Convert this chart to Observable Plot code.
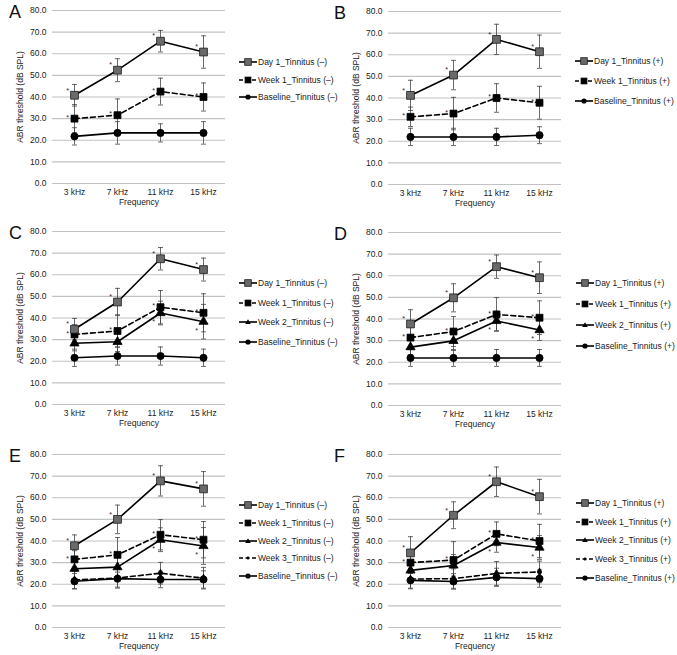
<!DOCTYPE html>
<html><head><meta charset="utf-8">
<script src="https://cdn.jsdelivr.net/npm/d3@7"></script>
<script src="https://cdn.jsdelivr.net/npm/@observablehq/plot@0.6"></script>
<style>
body{margin:0;background:#fff;}
#root{position:relative;width:677px;height:655px;font-family:"Liberation Sans",Arial,sans-serif;color:#222;overflow:hidden;}
.panel{position:absolute;}
.letter{position:absolute;font-size:18px;line-height:18px;color:#111;}
.lrow{position:absolute;display:flex;align-items:center;height:12px;font-size:8.5px;white-space:nowrap;}
.lrow svg{margin-right:1px;}
</style></head><body><div id="root"></div><script>
// ---- data ----
const freqs = ["3 kHz", "7 kHz", "11 kHz", "15 kHz"];
const yTicks = [0, 10, 20, 30, 40, 50, 60, 70, 80];
const seriesNames = ["Day 1", "Week 1", "Week 2", "Week 3", "Baseline"];

// significance markers (*) per series, by frequency
const sigDay1 = [1, 1, 1, 1];
const sigWeek1 = [1, 1, 1, 1];
const sigWeek2 = [0, 0, 1, 1];

// Panel A: Tinnitus (–)
const aDay1 = [40.8, 52.4, 65.8, 60.8], aDay1Err = [5.0, 5.3, 5.0, 7.5];
const aWeek1 = [30.0, 31.6, 42.5, 40.0], aWeek1Err = [6.5, 7.5, 6.2, 6.5];
const aBase = [21.8, 23.4, 23.4, 23.4], aBaseErr = [4.0, 5.2, 4.2, 5.2];
// Panel B: Tinnitus (+)
const bDay1 = [41.2, 50.6, 67.1, 61.4], bDay1Err = [7.0, 6.8, 7.0, 7.7];
const bWeek1 = [31.3, 32.8, 40.0, 37.8], bWeek1Err = [4.5, 7.5, 6.6, 7.6];
const bBase = [22.0, 22.0, 22.0, 22.8], bBaseErr = [4.0, 4.0, 4.0, 3.9];
// Panel C: Tinnitus (–)
const cDay1 = [34.8, 47.4, 67.4, 62.4], cDay1Err = [5.0, 6.3, 5.2, 5.3];
const cWeek1 = [32.4, 34.0, 45.0, 42.4], cWeek1Err = [4.5, 7.5, 7.7, 8.8];
const cWeek2 = [28.3, 29.0, 42.3, 38.3], cWeek2Err = [3.5, 4.5, 5.5, 8.0];
const cBase = [21.6, 22.4, 22.4, 21.6], cBaseErr = [4.0, 4.2, 4.2, 4.0];
// Panel D: Tinnitus (+)
const dDay1 = [37.7, 49.8, 64.2, 59.1], dDay1Err = [6.6, 6.5, 5.4, 7.3];
const dWeek1 = [31.4, 34.2, 42.1, 40.6], dWeek1Err = [5.0, 6.9, 7.8, 7.8];
const dWeek2 = [27.0, 29.9, 39.1, 34.9], dWeek2Err = [3.5, 4.5, 4.5, 4.8];
const dBase = [22.0, 22.0, 22.0, 22.0], dBaseErr = [3.9, 3.9, 3.9, 3.9];
// Panel E: Tinnitus (–)
const eDay1 = [37.8, 50.0, 67.8, 64.1], eDay1Err = [5.0, 6.6, 7.0, 8.0];
const eWeek1 = [31.5, 33.6, 42.9, 40.6], eWeek1Err = [4.0, 8.0, 7.0, 8.4];
const eWeek2 = [27.2, 27.9, 40.6, 37.7], eWeek2Err = [5.0, 5.0, 5.5, 8.5];
const eWeek3 = [22.0, 22.9, 25.1, 22.8], eWeek3Err = [4.0, 4.2, 5.0, 5.0];
const eBase = [21.4, 22.6, 22.2, 22.2], eBaseErr = [3.6, 4.4, 3.8, 4.0];
// Panel F: Tinnitus (+)
const fDay1 = [34.5, 51.9, 67.4, 60.5], fDay1Err = [7.5, 6.2, 6.8, 8.0];
const fWeek1 = [30.0, 31.2, 43.3, 40.0], fWeek1Err = [5.0, 8.5, 5.5, 7.7];
const fWeek2 = [26.4, 28.7, 39.3, 37.0], fWeek2Err = [4.5, 5.0, 4.5, 5.5];
const fWeek3 = [22.4, 22.6, 25.0, 25.7], fWeek3Err = [4.5, 4.5, 5.5, 5.0];
const fBase = [21.8, 21.3, 23.2, 22.6], fBaseErr = [3.6, 3.6, 4.2, 4.0];

// ---- styles ----
const styles = {
  "Day 1":    {symbol: "square",   r: 4.4, fill: "#6a6a6a", stroke: "#1a1a1a", dash: null,  starDy: -5},
  "Week 1":   {symbol: "square",   r: 3.9, fill: "#000",    stroke: "#000",    dash: "5,3", starDy: -1},
  "Week 2":   {symbol: "triangle", r: 3.4, fill: "#000",    stroke: "#000",    dash: null,  starDy: 9},
  "Week 3":   {symbol: "diamond",  r: 2.4, fill: "#000",    stroke: "#000",    dash: "5,3", starDy: -3},
  "Baseline": {symbol: "circle",   r: 3.6, fill: "#000",    stroke: "#000",    dash: null,  starDy: -3}
};
const capSymbol = {draw(ctx) { ctx.moveTo(-2.5, 0); ctx.lineTo(2.5, 0); }};

const panels = [
  {letter: "A", tag: "(–)", left: 0,   top: 0,   lx: 239, ly: 62,  ls: 17.5,
   series: [["Day 1", aDay1, aDay1Err, sigDay1], ["Week 1", aWeek1, aWeek1Err, sigWeek1], ["Baseline", aBase, aBaseErr, null]]},
  {letter: "B", tag: "(+)", left: 336, top: 1,   lx: 575, ly: 61,  ls: 20,
   series: [["Day 1", bDay1, bDay1Err, sigDay1], ["Week 1", bWeek1, bWeek1Err, sigWeek1], ["Baseline", bBase, bBaseErr, null]]},
  {letter: "C", tag: "(–)", left: 0,   top: 221, lx: 239, ly: 283, ls: 19.7,
   series: [["Day 1", cDay1, cDay1Err, sigDay1], ["Week 1", cWeek1, cWeek1Err, sigWeek1], ["Week 2", cWeek2, cWeek2Err, sigWeek2], ["Baseline", cBase, cBaseErr, null]]},
  {letter: "D", tag: "(+)", left: 336, top: 222, lx: 576, ly: 283, ls: 21,
   series: [["Day 1", dDay1, dDay1Err, sigDay1], ["Week 1", dWeek1, dWeek1Err, sigWeek1], ["Week 2", dWeek2, dWeek2Err, sigWeek2], ["Baseline", dBase, dBaseErr, null]]},
  {letter: "E", tag: "(–)", left: 0,   top: 444, lx: 239, ly: 505, ls: 17.8,
   series: [["Day 1", eDay1, eDay1Err, sigDay1], ["Week 1", eWeek1, eWeek1Err, sigWeek1], ["Week 2", eWeek2, eWeek2Err, sigWeek2], ["Week 3", eWeek3, eWeek3Err, null], ["Baseline", eBase, eBaseErr, null]]},
  {letter: "F", tag: "(+)", left: 336, top: 444, lx: 576, ly: 503, ls: 18.7,
   series: [["Day 1", fDay1, fDay1Err, sigDay1], ["Week 1", fWeek1, fWeek1Err, sigWeek1], ["Week 2", fWeek2, fWeek2Err, sigWeek2], ["Week 3", fWeek3, fWeek3Err, null], ["Baseline", fBase, fBaseErr, null]]}
];

const root = document.getElementById("root");
const FONT = "'Liberation Sans', Arial, sans-serif";

function markerSvg(name) {
  const s = styles[name];
  const cx = 9, cy = 5;
  let shape = "";
  if (s.symbol === "square") {
    const h = s.r * 0.75;
    shape = `<rect x="${cx - h}" y="${cy - h}" width="${2 * h}" height="${2 * h}" fill="${s.fill}" stroke="${s.stroke}" stroke-width="0.8"/>`;
  } else if (s.symbol === "circle") {
    shape = `<circle cx="${cx}" cy="${cy}" r="2.6" fill="#000"/>`;
  } else if (s.symbol === "triangle") {
    shape = `<path d="M${cx},${cy - 2.8}L${cx + 2.8},${cy + 2}L${cx - 2.8},${cy + 2}Z" fill="#000"/>`;
  } else {
    shape = `<path d="M${cx},${cy - 2}L${cx + 1.6},${cy}L${cx},${cy + 2}L${cx - 1.6},${cy}Z" fill="#000"/>`;
  }
  return `<svg width="18" height="10" viewBox="0 0 18 10"><line x1="0" y1="5" x2="18" y2="5" stroke="#000" stroke-width="1.6" ${s.dash ? `stroke-dasharray="4,2.5"` : ""}/>${shape}</svg>`;
}

for (const p of panels) {
  const rows = [];
  for (const [name, vals, errs, sig] of p.series) {
    freqs.forEach((f, i) => rows.push({series: name, freq: f, value: vals[i], err: errs[i], sig: sig ? sig[i] : 0}));
  }
  const marks = [
    Plot.gridY(yTicks, {stroke: "#c2c2c2", strokeOpacity: 1, strokeWidth: 1.1})
  ];
  // error bars
  marks.push(Plot.ruleX(rows, {x: "freq", y1: d => d.value - d.err, y2: d => d.value + d.err, stroke: "#444", strokeWidth: 0.8}));
  marks.push(Plot.dot(rows, {x: "freq", y: d => d.value + d.err, symbol: capSymbol, stroke: "#444", fill: "none", strokeWidth: 0.8}));
  marks.push(Plot.dot(rows, {x: "freq", y: d => d.value - d.err, symbol: capSymbol, stroke: "#444", fill: "none", strokeWidth: 0.8}));
  // lines (draw in reverse so Day 1 is on top)
  const order = [...p.series].reverse();
  for (const [name] of order) {
    const s = styles[name];
    const data = rows.filter(d => d.series === name);
    marks.push(Plot.line(data, {x: "freq", y: "value", stroke: "#000", strokeWidth: 1.6, strokeDasharray: s.dash || undefined}));
  }
  for (const [name] of order) {
    const s = styles[name];
    const data = rows.filter(d => d.series === name);
    marks.push(Plot.dot(data, {x: "freq", y: "value", symbol: s.symbol, r: s.r, fill: s.fill, stroke: s.stroke, strokeWidth: 0.8}));
  }
  // significance asterisks
  for (const [name] of p.series) {
    const data = rows.filter(d => d.sig && d.series === name);
    if (!data.length) continue;
    marks.push(Plot.text(data, {x: "freq", y: "value", text: () => "*", dx: -7, dy: styles[name].starDy, fontSize: 7, fill: "#222"}));
  }
  // axis titles
  marks.push(Plot.text(["Frequency"], {frameAnchor: "bottom", text: d => d, textAnchor: "middle", lineAnchor: "middle", dy: 19, fontSize: 8.5, fill: "#222"}));
  marks.push(Plot.text(["ABR threshold (dB SPL)"], {frameAnchor: "left", text: d => d, textAnchor: "middle", lineAnchor: "middle", rotate: -90, dx: -32, fontSize: 8.5, fill: "#222"}));

  const chart = Plot.plot({
    width: 235, height: 215,
    marginLeft: 52, marginRight: 10, marginTop: 10, marginBottom: 32,
    style: {fontFamily: FONT, fontSize: "8.5px", background: "transparent", overflow: "visible", color: "#222"},
    x: {type: "point", domain: freqs, padding: 0.5, tickSize: 0, tickPadding: 5, label: null},
    y: {domain: [0, 80], ticks: yTicks, tickFormat: d3.format(".1f"), tickSize: 0, tickPadding: 6, label: null},
    marks
  });
  const wrap = document.createElement("div");
  wrap.className = "panel";
  wrap.style.left = p.left + "px";
  wrap.style.top = p.top + "px";
  wrap.appendChild(chart);
  root.appendChild(wrap);

  const letter = document.createElement("div");
  letter.className = "letter";
  letter.textContent = p.letter;
  letter.style.left = (p.left === 0 ? 9 : 334) + "px";
  letter.style.top = (p.top + 3) + "px";
  root.appendChild(letter);

  p.series.forEach(([name], i) => {
    const row = document.createElement("div");
    row.className = "lrow";
    row.style.left = p.lx + "px";
    row.style.top = (p.ly + i * p.ls - 6) + "px";
    row.innerHTML = markerSvg(name) + `<span>${name}_Tinnitus ${p.tag}</span>`;
    root.appendChild(row);
  });
}
</script></body></html>
